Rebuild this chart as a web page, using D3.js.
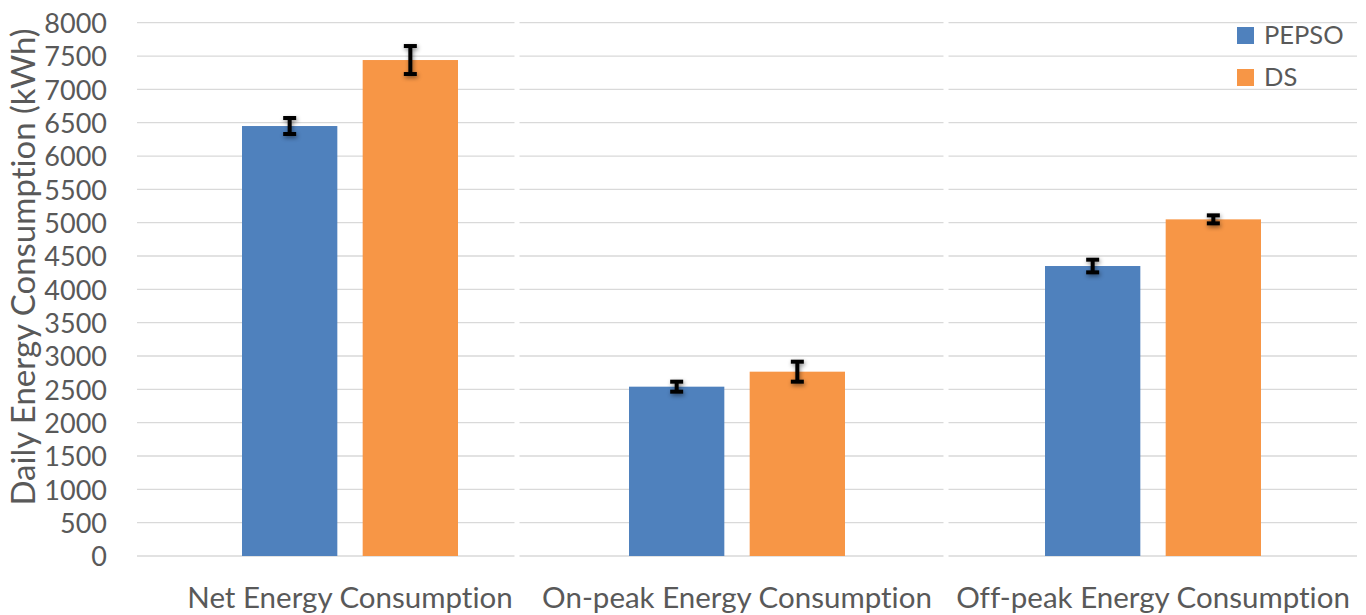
<!DOCTYPE html>
<html>
<head>
<meta charset="utf-8">
<script src="https://cdn.jsdelivr.net/npm/d3@7"></script>
<style>
  html, body { margin: 0; padding: 0; background: #fff; }
  svg { display: block; }
  text { font-family: "Lato", "Liberation Sans", sans-serif; fill: #595959; font-variant-ligatures: none; font-feature-settings: "liga" 0, "clig" 0; }
</style>
</head>
<body>
<svg id="chart" width="1366" height="615"></svg>
<script>
// ---- data ----
const categories = ["Net Energy Consumption", "On-peak Energy Consumption", "Off-peak Energy Consumption"];
const seriesNames = ["PEPSO", "DS"];
const pepsoValues = [6450, 2540, 4350];
const pepsoErrors = [120, 75, 95];
const dsValues = [7440, 2765, 5050];
const dsErrors = [210, 150, 60];
const yTicks = [0, 500, 1000, 1500, 2000, 2500, 3000, 3500, 4000, 4500, 5000, 5500, 6000, 6500, 7000, 7500, 8000];
const yTitle = "Daily Energy Consumption (kWh)";

// ---- layout ----
const plotLeft = 137, plotRight = 1357, plotTop = 22.7, plotBottom = 556;
const groupCenters = [350, 737, 1153];
const panelSeparators = [517, 946];
const colors = ["#4F81BD", "#F79646"];

const svg = d3.select("#chart");

const defs = svg.append("defs");
const f = defs.append("filter").attr("id", "shadow").attr("x", "-50%").attr("y", "-50%").attr("width", "200%").attr("height", "200%");
f.append("feDropShadow").attr("dx", 1).attr("dy", 2).attr("stdDeviation", 2).attr("flood-color", "#000").attr("flood-opacity", 0.45);

const y = d3.scaleLinear().domain([0, 8000]).range([plotBottom, plotTop]);
const x = d3.scaleOrdinal().domain(categories).range(groupCenters);
const xSub = d3.scaleBand().domain(seriesNames).range([-108, 108]).paddingInner(0.21);

// gridlines
svg.append("g").selectAll("line").data(yTicks).join("line")
  .attr("x1", plotLeft).attr("x2", plotRight)
  .attr("y1", d => y(d)).attr("y2", d => y(d))
  .attr("stroke", "#D9D9D9").attr("stroke-width", 1.3);

// panel separators (white gaps)
svg.append("g").selectAll("line").data(panelSeparators).join("line")
  .attr("x1", d => d).attr("x2", d => d)
  .attr("y1", plotTop - 3).attr("y2", plotBottom + 3)
  .attr("stroke", "#fff").attr("stroke-width", 5);

// y tick labels via axis
const yAxis = d3.axisLeft(y).tickValues(yTicks).tickSize(0).tickPadding(0).tickFormat(d3.format("d"));
const ya = svg.append("g").attr("transform", "translate(107,0)").call(yAxis);
ya.select(".domain").remove();
ya.selectAll("text").attr("font-size", 27).attr("fill", "#595959")
  .attr("font-family", "Lato, 'Liberation Sans', sans-serif").attr("dy", "0.36em");

// y title
svg.append("text")
  .attr("transform", "translate(35,267) rotate(-90)")
  .attr("text-anchor", "middle")
  .attr("font-size", 33)
  .text(yTitle);

// data rows
const rows = [];
categories.forEach((c, i) => {
  rows.push({cat: c, s: "PEPSO", v: pepsoValues[i], e: pepsoErrors[i], ci: 0});
  rows.push({cat: c, s: "DS", v: dsValues[i], e: dsErrors[i], ci: 1});
});

// bars
svg.append("g").selectAll("rect").data(rows).join("rect")
  .attr("x", d => x(d.cat) + xSub(d.s))
  .attr("width", xSub.bandwidth())
  .attr("y", d => y(d.v))
  .attr("height", d => y(0) - y(d.v))
  .attr("fill", d => colors[d.ci]);

// error bars
const eg = svg.append("g").attr("filter", "url(#shadow)");
const ebs = eg.selectAll("g").data(rows).join("g")
  .attr("transform", d => "translate(" + (x(d.cat) + xSub(d.s) + xSub.bandwidth() / 2) + ",0)");
ebs.append("line").attr("x1", 0).attr("x2", 0)
  .attr("y1", d => y(d.v + d.e)).attr("y2", d => y(d.v - d.e))
  .attr("stroke", "#000").attr("stroke-width", 4);
ebs.append("line").attr("x1", -6.5).attr("x2", 6.5)
  .attr("y1", d => y(d.v + d.e)).attr("y2", d => y(d.v + d.e))
  .attr("stroke", "#000").attr("stroke-width", 4);
ebs.append("line").attr("x1", -6.5).attr("x2", 6.5)
  .attr("y1", d => y(d.v - d.e)).attr("y2", d => y(d.v - d.e))
  .attr("stroke", "#000").attr("stroke-width", 4);

// category labels
svg.append("g").selectAll("text").data(categories).join("text")
  .attr("x", d => x(d)).attr("y", 608)
  .attr("text-anchor", "middle")
  .attr("font-size", 29.5)
  .text(d => d);

// legend
const lg = svg.append("g").selectAll("g").data(seriesNames).join("g")
  .attr("transform", (d, i) => "translate(1237," + (27 + i * 42) + ")");
lg.append("rect").attr("width", 17).attr("height", 17).attr("fill", (d, i) => colors[i]);
lg.append("text").attr("x", 27).attr("y", 17).attr("font-size", 25.5).text(d => d);
</script>
</body>
</html>
